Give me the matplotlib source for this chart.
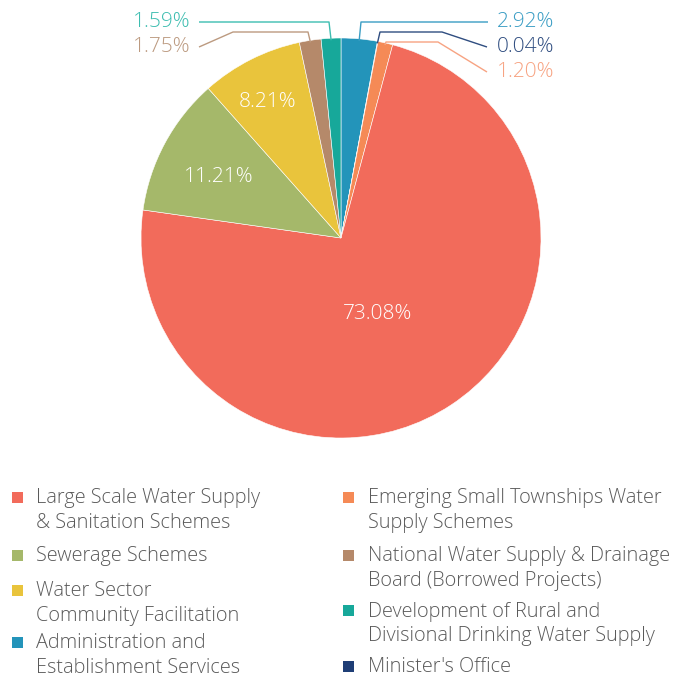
import numpy as np
import matplotlib
matplotlib.use("Agg")
import matplotlib.pyplot as plt
from matplotlib.patches import Rectangle

plt.rcParams['font.family'] = ['Open Sans', 'DejaVu Sans']

# Slices in clockwise order from 12 o'clock
names = ["Administration and\nEstablishment Services",
         "Minister's Office",
         "Emerging Small Townships Water\nSupply Schemes",
         "Large Scale Water Supply\n& Sanitation Schemes",
         "Sewerage Schemes",
         "Water Sector\nCommunity Facilitation",
         "National Water Supply & Drainage\nBoard (Borrowed Projects)",
         "Development of Rural and\nDivisional Drinking Water Supply"]
shares = [2.92, 0.04, 1.20, 73.08, 11.21, 8.21, 1.75, 1.59]
colors = ["#2394BA", "#1F3E76", "#F58A56", "#F26B5B",
          "#A5B86A", "#E9C43C", "#B5896A", "#17A89A"]
label_colors = ["#3A9DC4", "#2F4D80", "#F7A382", None, None, None,
                "#BC9A80", "#3DBDB0"]

W, H = 675, 677
fig = plt.figure(figsize=(W / 100, H / 100), dpi=100)
ax = fig.add_axes([0, 0, 1, 1])


def Y(y):
    return H - y


cx, cy, R = 341, 238, 200
ax.pie(shares, colors=colors, startangle=90, counterclock=False,
       center=(cx, Y(cy)), radius=R, frame=True,
       wedgeprops=dict(edgecolor='white', linewidth=0.4))
ax.set_xlim(0, W)
ax.set_ylim(0, H)
ax.set_aspect('equal')
ax.axis('off')

# mid-angle of each slice (degrees clockwise from top)
cum = np.cumsum([0] + shares)
mids = (cum[:-1] + cum[1:]) / 2 * 3.6


def arc_point(i, r=1.0):
    a = np.radians(mids[i])
    return cx + r * R * np.sin(a), cy - r * R * np.cos(a)


fs_lbl = 15
# inside labels
inside = {3: (378, 314), 4: (219, 177), 5: (268, 102)}
for i, (x, y) in inside.items():
    ax.text(x, Y(y), f"{shares[i]:.2f}%", color='white', fontsize=fs_lbl,
            ha='center', va='center', fontweight='light')

# outside labels with leader lines
outside = {
    7: ([(329, 22), (199, 22)], (191, 22), 'right'),
    6: ([(308, 32), (233, 32), (199, 47)], (191, 47), 'right'),
    0: ([(361, 22), (488, 22)], (497, 22), 'left'),
    1: ([(380, 32), (442, 32), (487, 47)], (497, 47), 'left'),
    2: ([(386, 42), (438, 42), (487, 72)], (497, 72), 'left'),
}
for i, (pts, (tx, ty), ha) in outside.items():
    x0, y0 = arc_point(i, 0.99)
    xs = [x0] + [p[0] for p in pts]
    ys = [Y(y0)] + [Y(p[1]) for p in pts]
    ax.plot(xs, ys, color=label_colors[i], lw=1.0, solid_capstyle='butt')
    ax.text(tx, Y(ty), f"{shares[i]:.2f}%", color=label_colors[i],
            fontsize=fs_lbl, ha=ha, va='center', fontweight='light')

# legend, two columns stacked independently
fs_leg = 14.3
left_col = [(3, 497), (4, 555), (5, 590), (0, 642)]
right_col = [(2, 497), (6, 555), (7, 610), (1, 666)]
for col, mx, tx in ((left_col, 12, 36), (right_col, 343, 368)):
    for i, y in col:
        ax.add_patch(Rectangle((mx, Y(y) - 5.5), 11, 11, color=colors[i],
                               lw=0))
        ax.text(tx, Y(y) + 8.5, names[i], color='#5a5a5a', fontsize=fs_leg,
                ha='left', va='top', fontweight='light', linespacing=1.32)

fig.savefig("out.png", dpi=100)
